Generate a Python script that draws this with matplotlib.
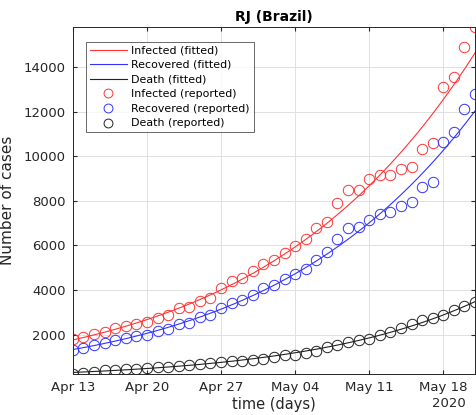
import numpy as np
import matplotlib
matplotlib.use('Agg')
import matplotlib.pyplot as plt
from datetime import datetime, timedelta

# Данные (RJ, 13 апр - 21 мая 2020)
start = datetime(2020, 4, 13)
n_days = 39

infected = [1807, 1880, 2013, 2103, 2313, 2402, 2492, 2550, 2747, 2864,
            3194, 3221, 3521, 3641, 4089, 4385, 4536, 4832, 5163, 5356,
            5640, 5990, 6295, 6773, 7070, 7920, 8487, 8487, 8965, 9158,
            9158, 9413, 9530, 10308, 10577, 13082, 13529, 14898, 15790]
recovered = [1329, 1404, 1521, 1628, 1745, 1852, 1955, 2000, 2147, 2255,
             2479, 2523, 2774, 2864, 3194, 3418, 3566, 3789, 4089, 4237,
             4492, 4716, 4953, 5324, 5682, 6281, 6773, 6818, 7160, 7390,
             7480, 7771, 7964, 8608, 8859, 10621, 11069, 12098, 12782]
death = [240, 300, 345, 403, 434, 465, 479, 510, 537, 568,
         613, 658, 689, 734, 761, 805, 837, 881, 926, 984,
         1074, 1105, 1181, 1253, 1450, 1552, 1673, 1745, 1807, 1969,
         2103, 2300, 2479, 2640, 2747, 2895, 3118, 3266, 3445]

tick_labels = ['Apr 13', 'Apr 20', 'Apr 27', 'May 04', 'May 11', 'May 18']

days = np.arange(n_days)
dates = [start + timedelta(days=int(d)) for d in days]

# Подгонка: полином 2-й степени по логарифму данных
t_fine = np.linspace(0, n_days - 1, 300)
dates_fine = [start + timedelta(days=float(t)) for t in t_fine]
def fit(y):
    p = np.polyfit(days, np.log(y), 2)
    return np.exp(np.polyval(p, t_fine))

fig = plt.figure(figsize=(4.76, 4.15), dpi=100)
ax = fig.add_axes([0.153, 0.099, 0.845, 0.836])

ax.plot(dates_fine, fit(infected), color='#ff3333', lw=0.8, label='Infected (fitted)')
ax.plot(dates_fine, fit(recovered), color='#3333ff', lw=0.8, label='Recovered (fitted)')
ax.plot(dates_fine, fit(death), color='#222222', lw=0.8, label='Death (fitted)')
ax.plot(dates, infected, 'o', mfc='none', mec='#ff3333', ms=7.5, mew=0.7, label='Infected (reported)')
ax.plot(dates, recovered, 'o', mfc='none', mec='#3333ff', ms=7.5, mew=0.7, label='Recovered (reported)')
ax.plot(dates, death, 'o', mfc='none', mec='#222222', ms=7.5, mew=0.7, label='Death (reported)')

ax.set_xlim(dates[0], dates[-1])
ax.set_ylim(min(death), max(infected))
ax.set_yticks(np.arange(2000, 14001, 2000))
ax.set_xticks([start + timedelta(days=7 * i) for i in range(len(tick_labels))])
ax.set_xticklabels(tick_labels)
ax.tick_params(direction='in', length=3, labelsize=9.5, colors='#262626',
               top=True, right=True, pad=5)
ax.grid(True, color='#e0e0e0', lw=0.7)
for s in ax.spines.values():
    s.set_color('#262626')
    s.set_linewidth(0.7)

ax.annotate('2020', xy=(start + timedelta(days=35), 0), xycoords=('data', 'axes fraction'),
            xytext=(4, -16.5), textcoords='offset points', ha='center', va='top',
            fontsize=9.5, color='#262626')

ax.set_title('RJ (Brazil)', fontsize=10, fontweight='bold', pad=4)
ax.set_xlabel('time (days)', fontsize=10.5, color='#262626', labelpad=2)
ax.set_ylabel('Number of cases', fontsize=11, color='#262626', labelpad=6)

leg = ax.legend(loc='upper left', bbox_to_anchor=(0.032, 0.958), fontsize=7.9,
                frameon=True, fancybox=False, edgecolor='#262626', borderaxespad=0,
                handlelength=3.4, handletextpad=0.4, borderpad=0.35, labelspacing=0.42,
                markerscale=0.85)
leg.get_frame().set_linewidth(0.6)

plt.savefig('out.png', dpi=100)
